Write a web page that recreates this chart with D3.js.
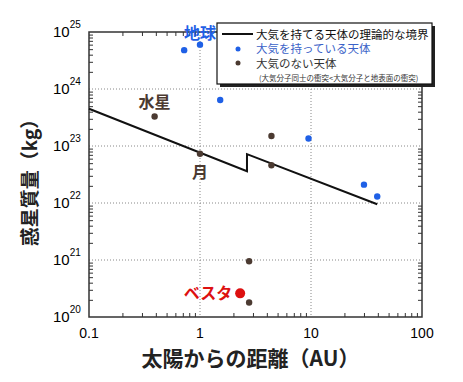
<!DOCTYPE html>
<html>
<head>
<meta charset="utf-8">
<script src="https://cdn.jsdelivr.net/npm/d3@7"></script>
<style>
  body { margin: 0; background: #fff; }
  text { font-family: "Noto Sans CJK JP", "Noto Sans", sans-serif; }
</style>
</head>
<body>
<div id="graph"></div>
<script>
// bodies with an atmosphere (AU, kg)
var withAtmDist = [0.72, 1.0, 1.52, 9.5, 30, 39.5];
var withAtmMass = [4.8e24, 6.0e24, 6.4e23, 1.35e23, 2.1e22, 1.3e22];

// bodies without an atmosphere
var noAtmDist = [0.39, 1.0, 4.4, 4.4, 2.77, 2.77];
var noAtmMass = [3.3e23, 7.3e22, 1.5e23, 4.6e22, 9.5e20, 1.8e20];

// Vesta
var vestaDist = [2.3];
var vestaMass = [2.6e20];

// theoretical boundary
var boundDist = [0.1, 2.65, 2.65, 39.5];
var boundMass = [4.5e23, 3.6e22, 7.2e22, 9.5e21];

var xTicks = [0.1, 1, 10, 100];
var xTickLabels = ["0.1", "1", "10", "100"];
var yTicks = [1e20, 1e21, 1e22, 1e23, 1e24, 1e25];
var yTickExp = ["20", "21", "22", "23", "24", "25"];

var legendLabels = ["大気を持てる天体の理論的な境界", "大気を持っている天体", "大気のない天体"];
var legendNote = "(大気分子同士の衝突<大気分子と地表面の衝突)";

var svgWidth = 463, svgHeight = 382;
var pLeft = 89, pRight = 422, pTop = 32, pBottom = 317;

var blue = "#1f60e6", brown = "#4b3a31", red = "#dd1010";

var svg = d3.select("#graph").append("svg")
  .attr("width", svgWidth)
  .attr("height", svgHeight);

var x = d3.scaleLog().domain([0.1, 100]).range([pLeft, pRight]);
var y = d3.scaleLog().domain([1e20, 1e25]).range([pBottom, pTop]);

// minor ticks list
var xMinor = [], yMinor = [];
[0.1, 1, 10].forEach(function(d){
  for (var k = 2; k <= 9; k++) xMinor.push(d * k);
});
[1e20, 1e21, 1e22, 1e23, 1e24].forEach(function(d){
  for (var k = 2; k <= 9; k++) yMinor.push(d * k);
});

// grid
var grid = svg.append("g").attr("stroke", "#888").attr("stroke-dasharray", "1,2").attr("stroke-width", 1);
grid.selectAll(".gx").data([1, 10]).enter().append("line")
  .attr("x1", function(d){ return x(d); }).attr("x2", function(d){ return x(d); })
  .attr("y1", pTop).attr("y2", pBottom);
grid.selectAll(".gy").data(yTicks.slice(1, 5)).enter().append("line")
  .attr("y1", function(d){ return y(d); }).attr("y2", function(d){ return y(d); })
  .attr("x1", pLeft).attr("x2", pRight);

// axes with inside ticks
function styleAxis(g){
  g.select(".domain").remove();
  g.selectAll("line").attr("stroke", "#333");
  g.selectAll("text").remove();
}
svg.append("g").attr("transform", "translate(0," + pBottom + ")")
  .call(d3.axisTop(x).tickValues(xMinor).tickSize(4)).call(styleAxis);
svg.append("g").attr("transform", "translate(0," + pTop + ")")
  .call(d3.axisBottom(x).tickValues(xMinor).tickSize(4)).call(styleAxis);
svg.append("g").attr("transform", "translate(" + pLeft + ",0)")
  .call(d3.axisRight(y).tickValues(yMinor).tickSize(4)).call(styleAxis);
svg.append("g").attr("transform", "translate(" + pRight + ",0)")
  .call(d3.axisLeft(y).tickValues(yMinor).tickSize(4)).call(styleAxis);

svg.append("rect")
  .attr("x", pLeft).attr("y", pTop)
  .attr("width", pRight - pLeft).attr("height", pBottom - pTop)
  .attr("fill", "none").attr("stroke", "#333").attr("stroke-width", 1.5);

// tick labels
svg.selectAll(".xl").data(xTicks).enter().append("text")
  .attr("x", function(d){ return x(d); })
  .attr("y", pBottom + 21)
  .attr("text-anchor", "middle")
  .attr("font-size", 14)
  .style("font-family", "Liberation Sans, Arial, sans-serif")
  .text(function(d, i){ return xTickLabels[i]; });

var yl = svg.selectAll(".yl").data(yTicks).enter().append("text")
  .attr("x", pLeft - 36)
  .attr("y", function(d){ return y(d) + 5; })
  .attr("font-size", 15)
  .style("font-family", "Liberation Sans, Arial, sans-serif");
yl.append("tspan").text("10");
yl.append("tspan").attr("dy", -9).attr("font-size", 10).text(function(d, i){ return yTickExp[i]; });

// axis titles
svg.append("text")
  .attr("x", (pLeft + pRight) / 2 - 5)
  .attr("y", 366)
  .attr("text-anchor", "middle")
  .attr("font-size", 21)
  .attr("font-weight", "bold")
  .attr("fill", "#222")
  .text("太陽からの距離（AU）");

svg.append("text")
  .attr("transform", "translate(37,178) rotate(-90)")
  .attr("text-anchor", "middle")
  .attr("font-size", 19)
  .attr("font-weight", "bold")
  .attr("fill", "#222")
  .text("惑星質量（kg）");

// boundary line
var line = d3.line()
  .x(function(d){ return x(d[0]); })
  .y(function(d){ return y(d[1]); });
svg.append("path")
  .datum(d3.zip(boundDist, boundMass))
  .attr("d", line)
  .attr("fill", "none")
  .attr("stroke", "#111")
  .attr("stroke-width", 2);

// points
svg.selectAll(".pa").data(d3.zip(withAtmDist, withAtmMass)).enter().append("circle")
  .attr("cx", function(d){ return x(d[0]); })
  .attr("cy", function(d){ return y(d[1]); })
  .attr("r", 3.2)
  .attr("fill", blue);

svg.selectAll(".pn").data(d3.zip(noAtmDist, noAtmMass)).enter().append("circle")
  .attr("cx", function(d){ return x(d[0]); })
  .attr("cy", function(d){ return y(d[1]); })
  .attr("r", 3.2)
  .attr("fill", brown);

svg.selectAll(".pv").data(d3.zip(vestaDist, vestaMass)).enter().append("circle")
  .attr("cx", function(d){ return x(d[0]); })
  .attr("cy", function(d){ return y(d[1]); })
  .attr("r", 5)
  .attr("fill", red);

// body labels
function label(txt, px, py, col, anchor){
  svg.append("text")
    .attr("x", px).attr("y", py)
    .attr("text-anchor", anchor || "middle")
    .attr("font-size", 16)
    .attr("font-weight", "bold")
    .attr("fill", col)
    .text(txt);
}
label("地球", x(1), y(6.0e24) - 6, blue);
label("水星", x(0.39), y(3.3e23) - 8, brown);
label("月", x(1), y(7.3e22) + 24, brown);
label("ベスタ", x(2.3) - 8, y(2.6e20) + 6, red, "end");

// legend
var lg = svg.append("g");
lg.append("rect").attr("x", 220).attr("y", 26).attr("width", 215).attr("height", 61).attr("fill", "#222");
lg.append("rect").attr("x", 217).attr("y", 23).attr("width", 215).attr("height", 61)
  .attr("fill", "#fff").attr("stroke", "#111").attr("stroke-width", 1.2);
lg.append("line").attr("x1", 222).attr("x2", 253).attr("y1", 34).attr("y2", 34)
  .attr("stroke", "#111").attr("stroke-width", 2);
lg.append("circle").attr("cx", 238).attr("cy", 49).attr("r", 2.5).attr("fill", blue);
lg.append("circle").attr("cx", 238).attr("cy", 63).attr("r", 2.5).attr("fill", brown);
var legendColors = ["#111", "#3a62c8", "#333"];
lg.selectAll(".lt").data(legendLabels).enter().append("text")
  .attr("x", 256)
  .attr("y", function(d, i){ return 38.5 + i * 14.5; })
  .attr("font-size", 11.5)
  .attr("fill", function(d, i){ return legendColors[i]; })
  .text(function(d){ return d; });
lg.append("text").attr("x", 259).attr("y", 81).attr("font-size", 7.5).attr("fill", "#333").text(legendNote);
</script>
</body>
</html>
